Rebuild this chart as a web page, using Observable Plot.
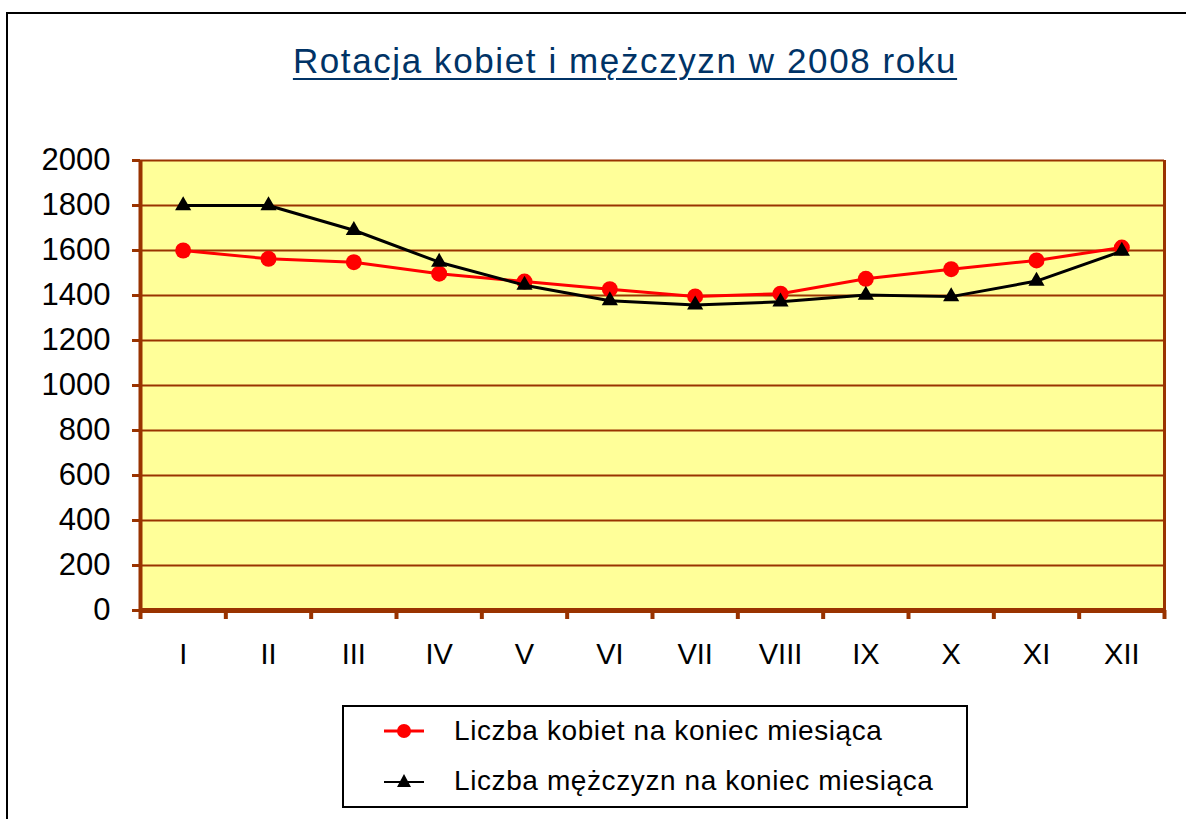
<!DOCTYPE html>
<html>
<head>
<meta charset="utf-8">
<script src="https://cdn.jsdelivr.net/npm/d3@7"></script>
<script src="https://cdn.jsdelivr.net/npm/@observablehq/plot@0.6"></script>
<style>
  html, body { margin: 0; padding: 0; background: #fff; }
  #wrap { position: relative; width: 1186px; height: 819px; overflow: hidden; font-family: "Liberation Sans", Arial, sans-serif; }
  #border { position: absolute; left: 6px; top: 12px; width: 1300px; height: 900px; border-top: 2px solid #000; border-left: 2px solid #000; }
  #title { position: absolute; left: 0; width: 1250px; top: 43px; text-align: center; font-size: 35px; line-height: 35px; color: #003366; letter-spacing: 1.6px; }
  #title span { text-decoration: underline; text-decoration-thickness: 2px; text-underline-offset: 5px; }
  #chart { position: absolute; left: 0; top: 0; }
  #legend { position: absolute; left: 342px; top: 705px; width: 622px; height: 99px; border: 2px solid #000; box-sizing: content-box; }
  .item { position: absolute; left: 40px; display: flex; align-items: center; font-size: 28px; letter-spacing: 0.6px; color: #000; }
  .item svg { margin-right: 30px; }
</style>
</head>
<body>
<div id="wrap">
  <div id="border"></div>
  <div id="title"><span>Rotacja kobiet i mężczyzn w 2008 roku</span></div>
  <div id="chart"></div>
  <div id="legend">
    <div class="item" style="top:8px"><svg width="40" height="20"><line x1="0" x2="40" y1="10" y2="10" stroke="#FF0000" stroke-width="3"/><circle cx="20" cy="10" r="7" fill="#FF0000"/></svg><span id="lab0"></span></div>
    <div class="item" style="top:58px"><svg width="40" height="20"><line x1="0" x2="40" y1="11" y2="11" stroke="#000" stroke-width="2"/><path d="M20,3 L27,16 L13,16 Z" fill="#000"/></svg><span id="lab1"></span></div>
  </div>
</div>
<script>
// Data
const months = [1, 2, 3, 4, 5, 6, 7, 8, 9, 10, 11, 12];
const monthLabels = ["I", "II", "III", "IV", "V", "VI", "VII", "VIII", "IX", "X", "XI", "XII"];
const women = [1600, 1563, 1548, 1497, 1462, 1428, 1396, 1408, 1474, 1517, 1556, 1613];
const men = [1800, 1800, 1690, 1548, 1446, 1377, 1358, 1372, 1402, 1395, 1464, 1597];
const yTicks = [0, 200, 400, 600, 800, 1000, 1200, 1400, 1600, 1800, 2000];
const seriesNames = ["Liczba kobiet na koniec miesiąca", "Liczba mężczyzn na koniec miesiąca"];

document.getElementById("lab0").textContent = seriesNames[0];
document.getElementById("lab1").textContent = seriesNames[1];

const wData = months.map((m, i) => ({m, v: women[i]}));
const mData = months.map((m, i) => ({m, v: men[i]}));
const boundaries = [months[0] - 0.5, ...months.map(m => m + 0.5)];

const brown = "#993300";

const chart = Plot.plot({
  width: 1186,
  height: 700,
  marginLeft: 140,
  marginRight: 22,
  marginTop: 160,
  marginBottom: 90,
  style: { fontFamily: "Liberation Sans, Arial, sans-serif", color: "#000", background: "transparent", overflow: "visible" },
  x: { type: "linear", domain: [boundaries[0], boundaries[boundaries.length - 1]] },
  y: { domain: [0, 2000] },
  marks: [
    Plot.frame({ fill: "#FFFF99", stroke: null }),
    Plot.ruleY(yTicks, { stroke: brown, strokeWidth: 2 }),
    Plot.ruleX([boundaries[boundaries.length - 1]], { stroke: brown, strokeWidth: 3 }),
    Plot.ruleX([boundaries[0]], { stroke: brown, strokeWidth: 4 }),
    Plot.ruleY([0], { stroke: brown, strokeWidth: 5 }),
    Plot.axisY({ ticks: yTicks, tickSize: 8, tickPadding: 22, stroke: brown, strokeWidth: 3, fontSize: 31, label: null, tickFormat: d => String(d) }),
    Plot.axisX({ ticks: boundaries, tickSize: 9, stroke: brown, strokeWidth: 4, tickFormat: () => "", label: null }),
    Plot.axisX({ ticks: months, tickSize: 0, tickPadding: 33, fontSize: 29, label: null, tickFormat: d => monthLabels[months.indexOf(d)] }),
    Plot.line(wData, { x: "m", y: "v", stroke: "#FF0000", strokeWidth: 3 }),
    Plot.dot(wData, { x: "m", y: "v", r: 8, fill: "#FF0000", stroke: null }),
    Plot.line(mData, { x: "m", y: "v", stroke: "#000", strokeWidth: 3 }),
    Plot.dot(mData, { x: "m", y: "v", r: 6, symbol: "triangle", fill: "#000", stroke: null })
  ]
});
document.getElementById("chart").appendChild(chart);
</script>
</body>
</html>
